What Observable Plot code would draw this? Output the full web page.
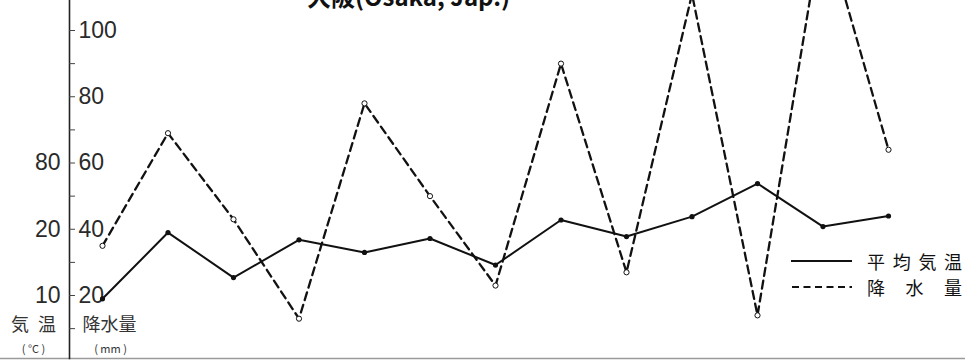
<!DOCTYPE html>
<html>
<head>
<meta charset="utf-8">
<script src="https://cdn.jsdelivr.net/npm/d3@7"></script>
<script src="https://cdn.jsdelivr.net/npm/@observablehq/plot@0.6"></script>
<style>
  html, body { margin: 0; padding: 0; background: #fff; width: 965px; height: 360px; overflow: hidden; }
  #wrap { position: relative; width: 965px; height: 360px; overflow: hidden; }
  #title { position: absolute; left: 307px; top: -19px; font-family: "Noto Sans CJK JP", sans-serif; font-weight: 700; font-size: 24px; line-height: 30px; color: #111; white-space: nowrap; }
  #legend { position: absolute; left: 788px; top: 248px; width: 177px; font-family: "Noto Sans CJK JP", sans-serif; font-size: 18px; color: #111; white-space: nowrap; }
  .lg-row { display: flex; align-items: center; height: 26px; line-height: 26px; }
  .lg-row svg { flex: none; width: 68px; height: 10px; margin-right: 11px; }
  .a { margin-right: 7.7px; }
  .b { margin-right: 20.5px; }
</style>
</head>
<body>
<div id="wrap">
  <div id="title">大阪(Osaka, Jap.)</div>
  <div id="legend">
    <div class="lg-row"><svg><line x1="3" x2="64" y1="5" y2="5" stroke="#111" stroke-width="2.2"/></svg><span><span class="a">平</span><span class="a">均</span><span class="a">気</span><span>温</span></span></div>
    <div class="lg-row"><svg><line x1="4" x2="64" y1="5" y2="5" stroke="#111" stroke-width="2.2" stroke-dasharray="7,4.5"/></svg><span><span class="b">降</span><span class="b">水</span><span>量</span></span></div>
  </div>
</div>
<script>
// Observation points (13 along the x axis)
const points = [1, 2, 3, 4, 5, 6, 7, 8, 9, 10, 11, 12, 13];
// 平均気温 (°C)
const temperature = [9.5, 19.5, 12.7, 18.4, 16.5, 18.6, 14.6, 21.4, 18.9, 21.9, 26.9, 20.4, 22.0];
// 降水量 (mm)
const precipitation = [35, 69, 43, 13, 78, 50, 23, 90, 27, 111, 14, 133, 64];

// Axis ticks
const precipTickValues = [20, 40, 60, 80, 100];
const precipTickLabels = ["20", "40", "60", "80", "100"];
const minorTickValues = [10, 20, 30, 40, 50, 60, 70, 80, 90, 100];
const tempTickValues = [10, 20, 30];
const tempTickLabels = ["10", "20", "80"];

const W = 965, H = 360;
const rows = points.map((p, i) => ({p, t: temperature[i] * 2, r: precipitation[i]}));
const numFont = "'Liberation Sans Narrow', 'Liberation Sans', sans-serif";
const jpFont = "'Noto Sans CJK JP', sans-serif";

const chart = Plot.plot({
  width: W,
  height: H,
  marginTop: 0,
  marginBottom: 2,
  marginLeft: 69,
  marginRight: 0,
  style: {background: "transparent", fontFamily: numFont, overflow: "hidden"},
  x: {domain: [1, 13], range: [102, 888], axis: null},
  y: {domain: [0, 100], range: [361.25, 30], axis: null},
  marks: [
    Plot.frame({anchor: "bottom", stroke: "#9a9a9a", strokeWidth: 1.5, insetLeft: -69}),
    Plot.frame({anchor: "left", stroke: "#222", strokeWidth: 1.6}),
    Plot.ruleY(minorTickValues, {y: d => d, insetRight: W - 69 - 6, stroke: "#444", strokeWidth: 1}),
    Plot.text(precipTickValues, {
      y: d => d, text: (d, i) => precipTickLabels[i], frameAnchor: "left",
      dx: 9, textAnchor: "start", fontSize: 23, fill: "#2a2a2a", fontFamily: numFont
    }),
    Plot.text(tempTickValues, {
      y: d => d * 2, text: (d, i) => tempTickLabels[i], frameAnchor: "left",
      dx: -9, textAnchor: "end", fontSize: 23, fill: "#2a2a2a", fontFamily: numFont
    }),
    Plot.line(rows, {x: "p", y: "r", stroke: "#111", strokeWidth: 2.3, strokeDasharray: "8,5"}),
    Plot.line(rows, {x: "p", y: "t", stroke: "#111", strokeWidth: 2}),
    Plot.dot(rows, {x: "p", y: "t", r: 2.6, fill: "#111"}),
    Plot.dot(rows, {x: "p", y: "r", r: 2.6, fill: "white", stroke: "#111", strokeWidth: 1}),
    // axis unit labels
    Plot.text(["気\u2002温"], {frameAnchor: "bottom-left", dx: -36, dy: -28, text: d => d, textAnchor: "middle", fontSize: 18, fontFamily: jpFont, fill: "#333"}),
    Plot.text(["( °C )"], {frameAnchor: "bottom-left", dx: -36, dy: -6, text: d => d, textAnchor: "middle", fontSize: 11, fontFamily: jpFont, fill: "#333"}),
    Plot.text(["降水量"], {frameAnchor: "bottom-left", dx: 40, dy: -28, text: d => d, textAnchor: "middle", fontSize: 18, fontFamily: jpFont, fill: "#333"}),
    Plot.text(["( mm )"], {frameAnchor: "bottom-left", dx: 41, dy: -6, text: d => d, textAnchor: "middle", fontSize: 11, fontFamily: jpFont, fill: "#333"})
  ]
});
document.getElementById("wrap").prepend(chart);
</script>
</body>
</html>
